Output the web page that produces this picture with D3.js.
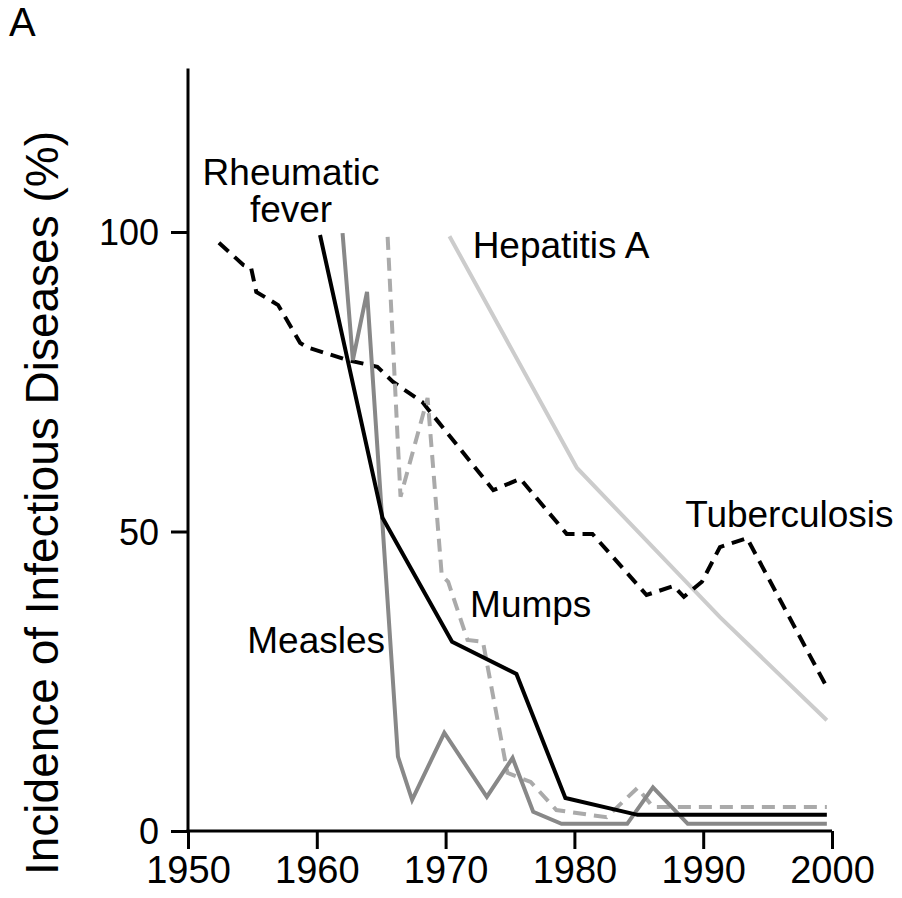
<!DOCTYPE html>
<html>
<head>
<meta charset="utf-8">
<script src="https://cdn.jsdelivr.net/npm/d3@7"></script>
<style>
    body { margin: 0; background: #fff; }
    svg { display: block; font-family: "Liberation Sans", Arial, Helvetica, sans-serif; }
</style>
</head>
<body>
<svg id="chart"></svg>
<script>
// Series values: [year, incidence %]
const tuberculosis = [
    [1952.4, 98.2], [1954.3, 94.5], [1954.9, 94.0], [1955.3, 90.0], [1957.0, 87.8],
    [1958.7, 81.5], [1959.2, 80.8], [1962.4, 78.6], [1964.7, 77.5], [1965.9, 75.0],
    [1968.2, 71.6], [1973.7, 56.9], [1975.8, 58.8], [1979.4, 49.6], [1981.4, 49.6],
    [1985.6, 39.4], [1987.7, 40.9], [1988.5, 39.1], [1989.9, 41.6], [1991.3, 47.4],
    [1993.4, 48.9], [1999.5, 24.4]
];
const rheumaticFever = [
    [1960.25, 99.5], [1965.1, 52.3], [1970.5, 31.6], [1975.5, 26.2],
    [1979.3, 5.5], [1984.9, 2.7], [1999.6, 2.7]
];
const measles = [
    [1962.0, 99.8], [1962.8, 78.6], [1963.9, 90.0], [1966.3, 12.4], [1967.4, 5.2],
    [1969.9, 16.4], [1973.2, 5.7], [1975.2, 12.2], [1976.8, 3.2], [1979.0, 1.2],
    [1984.1, 1.2], [1986.1, 7.3], [1988.8, 1.2], [1999.6, 1.2]
];
const mumps = [
    [1965.5, 99.2], [1966.5, 55.8], [1968.6, 72.3], [1969.7, 42.7], [1970.2, 41.6],
    [1971.7, 31.9], [1972.9, 31.6], [1974.8, 9.7], [1976.6, 8.2], [1978.6, 3.5],
    [1982.5, 2.3], [1984.9, 7.2], [1986.1, 4.0], [1999.6, 4.0]
];
const hepatitisA = [
    [1970.3, 99.3], [1980.2, 60.6], [1991.3, 35.7], [1999.6, 18.5]
];

const xTicks = [1950, 1960, 1970, 1980, 1990, 2000];
const yTicks = [0, 50, 100];

// label text and anchor in data units [year, value]
const labels = [
    { text: "Rheumatic", at: [1958.0, 107.8], anchor: "middle" },
    { text: "fever", at: [1958.0, 101.6], anchor: "middle" },
    { text: "Hepatitis A", at: [1972.1, 95.7], anchor: "start" },
    { text: "Tuberculosis", at: [1988.6, 50.7], anchor: "start" },
    { text: "Mumps", at: [1971.9, 35.7], anchor: "start" },
    { text: "Measles", at: [1954.6, 29.7], anchor: "start" }
];

const series = [
    { data: hepatitisA, color: "#cccccc", dash: null },
    { data: tuberculosis, color: "#000000", dash: "13,8" },
    { data: mumps, color: "#aaaaaa", dash: "13,8" },
    { data: measles, color: "#888888", dash: null },
    { data: rheumaticFever, color: "#000000", dash: null }
];

const width = 902, height = 898;
const svg = d3.select("#chart").attr("width", width).attr("height", height);

const x = d3.scaleLinear().domain([1950, 2000]).range([188, 832]);
const y = d3.scaleLinear().domain([0, 100]).range([831, 232]);

// Axes
const xAxis = svg.append("g")
    .attr("transform", `translate(0, ${y(0)})`)
    .call(d3.axisBottom(x).tickValues(xTicks).tickFormat(d3.format("d")).tickSize(18).tickPadding(7));

const yAxis = svg.append("g")
    .attr("transform", `translate(${x(1950)}, 0)`)
    .call(d3.axisLeft(y).tickValues(yTicks).tickSize(17).tickPadding(12));

[xAxis, yAxis].forEach(g => {
    g.select(".domain").remove();
    g.selectAll(".tick line").attr("stroke", "#000").attr("stroke-width", 3);
    g.selectAll(".tick text").attr("fill", "#000").attr("font-family", "Liberation Sans, Arial, sans-serif");
});
xAxis.selectAll(".tick text").attr("font-size", 38);
yAxis.selectAll(".tick text").attr("font-size", 36).attr("dy", "0.36em");

// axis lines
svg.append("line")
    .attr("x1", x(1950)).attr("x2", x(1950))
    .attr("y1", y(127.3)).attr("y2", y(0) + 1.5)
    .attr("stroke", "#000").attr("stroke-width", 3);
svg.append("line")
    .attr("x1", x(1950) - 1.5).attr("x2", x(2000))
    .attr("y1", y(0)).attr("y2", y(0))
    .attr("stroke", "#000").attr("stroke-width", 3);

// Lines
const line = d3.line().x(d => x(d[0])).y(d => y(d[1]));

series.forEach(s => {
    svg.append("path")
        .datum(s.data)
        .attr("d", line)
        .attr("fill", "none")
        .attr("stroke", s.color)
        .attr("stroke-width", 4)
        .attr("stroke-linejoin", "miter")
        .attr("stroke-dasharray", s.dash);
});

// Series labels
svg.append("g").selectAll("text")
    .data(labels)
    .join("text")
    .attr("x", d => x(d.at[0]))
    .attr("y", d => y(d.at[1]))
    .attr("text-anchor", d => d.anchor)
    .attr("font-size", 37)
    .attr("fill", "#000")
    .text(d => d.text);

// Axis title
svg.append("text")
    .attr("transform", `translate(58, 503) rotate(-90)`)
    .attr("text-anchor", "middle")
    .attr("font-size", 46)
    .attr("fill", "#000")
    .text("Incidence of Infectious Diseases (%)");

// Panel letter
svg.append("text")
    .attr("x", 9)
    .attr("y", 36)
    .attr("font-size", 40)
    .attr("fill", "#000")
    .text("A");
</script>
</body>
</html>
